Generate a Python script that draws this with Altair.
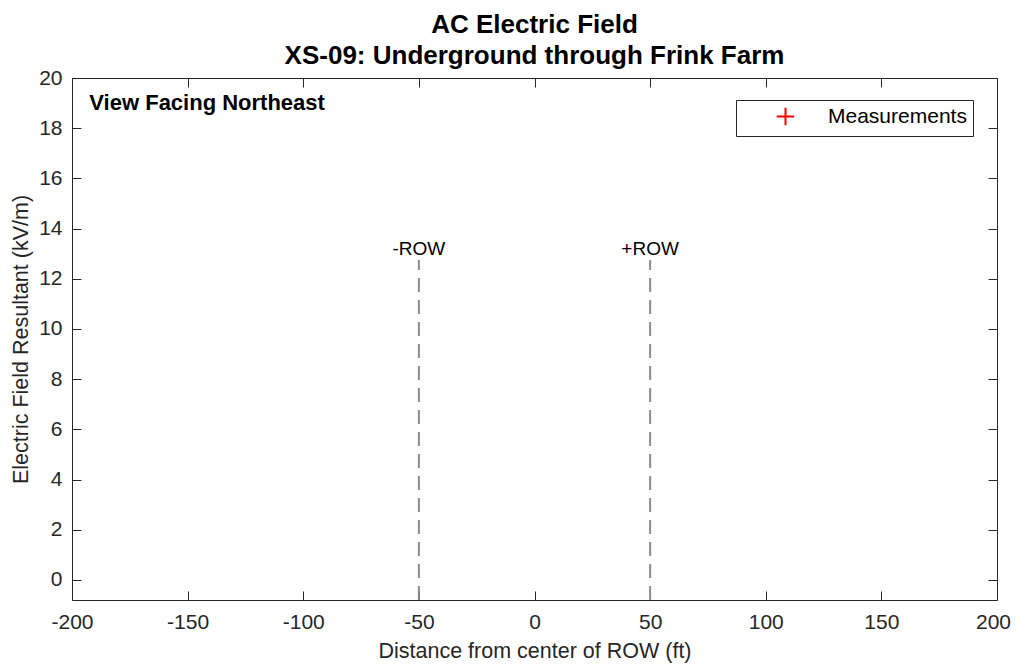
import altair as alt
import pandas as pd

# ---- data ----
x_ticks = [-200, -150, -100, -50, 0, 50, 100, 150, 200]
y_ticks = [0, 2, 4, 6, 8, 10, 12, 14, 16, 18, 20]
X_MIN, X_MAX = -200, 200
Y_MIN, Y_MAX = -0.8, 20

row_x = [-50, 50]
row_labels = ["-ROW", "+ROW"]
row_top = [12.75, 12.75]

meas_x = []
meas_y = []

note_text = ["View Facing Northeast"]
note_x = [-192.5]
note_y = [19.0]

W, H = 925, 522
FONT = "Liberation Sans"
AX = "#262626"
TICK = 9
LBL = "replace(datum.label, '\u2212', '-')"

row_df = pd.DataFrame({"x": row_x, "label": row_labels,
                       "y0": [Y_MIN] * len(row_x), "y1": row_top})
meas_df = pd.DataFrame({"x": pd.Series(meas_x, dtype=float),
                        "y": pd.Series(meas_y, dtype=float),
                        "series": pd.Series([], dtype=str)})
note_df = pd.DataFrame({"x": note_x, "y": note_y, "t": note_text})

xs = alt.Scale(domain=[X_MIN, X_MAX], nice=False, zero=False)
ys = alt.Scale(domain=[Y_MIN, Y_MAX], nice=False, zero=False)

def tick_axis(orient, vals):
    return alt.Axis(orient=orient, values=vals, labels=False, domain=False,
                    ticks=True, tickSize=TICK, offset=-TICK, tickColor=AX,
                    tickWidth=1, grid=False, title=None)

# dashed ROW lines with main labelled axes
rules = alt.Chart(row_df).mark_rule(
    color="#8c8c8c", strokeWidth=2, strokeDash=[14, 8]
).encode(
    x=alt.X("x:Q", scale=xs, axis=alt.Axis(
        orient="bottom", values=x_ticks, ticks=False, domain=False, grid=False,
        labelFlush=False, labelExpr=LBL,
        labelOffset={"expr": f"datum.value == {X_MAX} ? -4 : 0"},
        title="Distance from center of ROW (ft)", labelPadding=11, titlePadding=8)),
    y=alt.Y("y0:Q", scale=ys, axis=alt.Axis(
        orient="left", values=y_ticks, ticks=False, domain=False, grid=False,
        labelFlush=False, labelExpr=LBL,
        title="Electric Field Resultant (kV/m)", labelPadding=10, titlePadding=6)),
    y2="y1:Q",
)

row_text = alt.Chart(row_df).mark_text(
    baseline="bottom", align="center", dy=-1, fontSize=19, font=FONT, color="black"
).encode(
    x=alt.X("x:Q", scale=xs, axis=tick_axis("top", x_ticks)),
    y=alt.Y("y1:Q", scale=ys, axis=tick_axis("right", y_ticks)),
    text="label:N",
)

note = alt.Chart(note_df).mark_text(
    align="left", baseline="middle", fontSize=22, fontWeight="bold", font=FONT, color="black"
).encode(
    x=alt.X("x:Q", scale=xs, axis=tick_axis("bottom", x_ticks)),
    y=alt.Y("y:Q", scale=ys, axis=tick_axis("left", y_ticks)),
    text="t:N",
)

plus = "M-1,0L1,0M0,-1L0,1"
meas = alt.Chart(meas_df).mark_point(
    shape=plus, filled=False, size=300, strokeWidth=2, opacity=1
).encode(
    x=alt.X("x:Q", scale=xs, axis=None),
    y=alt.Y("y:Q", scale=ys, axis=None),
    color=alt.Color("series:N", scale=alt.Scale(domain=["Measurements"], range=["red"]),
                    legend=alt.Legend(
                        orient="none", legendX=664, legendY=22, title=None,
                        symbolType=plus, symbolSize=300, symbolStrokeWidth=2,
                        symbolFillColor="transparent", symbolOpacity=1,
                        labelFontSize=21, labelFont=FONT, labelColor="black",
                        strokeColor=AX, fillColor="white", padding=6,
                        symbolOffset=33, labelOffset=32)),
)

chart = alt.layer(rules, row_text, note, meas).resolve_axis(
    x="independent", y="independent"
).properties(
    width=W, height=H,
    title=alt.TitleParams(
        ["AC Electric Field", "XS-09: Underground through Frink Farm"],
        fontSize=26, font=FONT, fontWeight="bold", color="black",
        anchor="middle", lineHeight=31, offset=-2),
    autosize=alt.AutoSizeParams(type="none"),
    padding={"left": 64, "top": 70, "right": 14, "bottom": 64},
).configure_view(
    stroke=AX, strokeWidth=1
).configure_axis(
    labelFont=FONT, titleFont=FONT, labelFontSize=21, titleFontSize=21.5,
    labelColor=AX, titleColor=AX, titleFontWeight="normal",
)

chart.save("out.html", embed_options={"renderer": "svg", "actions": False})
